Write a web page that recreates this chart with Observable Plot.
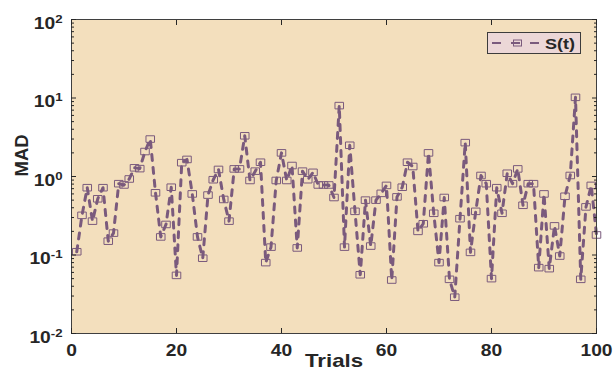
<!DOCTYPE html>
<html>
<head>
<meta charset="utf-8">
<script src="https://cdn.jsdelivr.net/npm/d3@7"></script>
<script src="https://cdn.jsdelivr.net/npm/@observablehq/plot@0.6"></script>
<style>
  body { margin: 0; background: #ffffff; }
  #wrap { position: relative; width: 614px; height: 371px; font-family: "Liberation Sans", Arial, sans-serif; }
  #legend {
    position: absolute; left: 487px; top: 32px; width: 94px; height: 22px;
    box-sizing: border-box; background: #ecd7d7; border: 1px solid #3c3c3c;
    display: flex; align-items: center;
  }
  #legend span { display: inline-block; font-weight: bold; font-size: 15px; color: #262626; margin-left: 2px; transform: scaleX(1.2); transform-origin: left center; }
</style>
</head>
<body>
<div id="wrap"></div>
<script>
// ---- data ----
const madValues = [
  0.11, 0.32, 0.72, 0.27, 0.52, 0.72, 0.15, 0.19, 0.81, 0.78,
  0.93, 1.29, 1.26, 2.08, 3.0, 0.62, 0.17, 0.245, 0.73, 0.055,
  1.5, 1.65, 0.6, 0.17, 0.091, 0.58, 0.91, 1.23, 0.51, 0.27,
  1.25, 1.25, 3.3, 0.89, 1.17, 1.52, 0.08, 0.126, 0.89, 2.0,
  0.89, 1.38, 0.123, 1.17, 0.91, 1.13, 0.78, 0.78, 0.78, 0.54,
  8.0, 0.126, 2.5, 0.36, 0.056, 0.5, 0.13, 0.5, 0.61, 0.77,
  0.048, 0.55, 0.73, 1.52, 1.34, 0.2, 0.25, 2.0, 0.34, 0.08,
  0.54, 0.049, 0.029, 0.29, 2.7, 0.108, 0.36, 1.03, 0.81, 0.05,
  0.72, 0.34, 1.1, 0.81, 1.25, 0.43, 0.81, 0.81, 0.069, 0.6,
  0.067, 0.235, 0.097, 0.56, 1.03, 10.2, 0.049, 0.41, 0.77, 0.18
];
const seriesName = "S(t)";
const xLabel = "Trials";
const yLabel = "MAD";
const xTicks = [0, 20, 40, 60, 80, 100];
const yTicks = [0.01, 0.1, 1, 10, 100];

// minor log ticks (2..9 within each decade)
const yMinor = [];
for (let e = -2; e < 2; e++) for (let m = 2; m <= 9; m++) yMinor.push(m * Math.pow(10, e));

const data = madValues.map((v, i) => ({trial: i + 1, mad: v}));

const lineColor = "#7a5a7d";
const bg = "#f3dfbd";
const ink = "#262626";

// slightly wide rectangle marker (like the reference squares)
const rectSymbol = {
  draw(ctx, size) {
    const s = Math.sqrt(size);
    const w = s * 1.12, h = s * 0.86;
    ctx.rect(-w / 2, -h / 2, w, h);
  }
};

const chart = Plot.plot({
  width: 614,
  height: 371,
  marginLeft: 71,
  marginRight: 18,
  marginTop: 19,
  marginBottom: 38,
  style: {
    fontFamily: "'Liberation Sans', Arial, sans-serif",
    fontWeight: "bold",
    fontSize: "16px",
    color: ink,
    background: "transparent",
    overflow: "visible"
  },
  x: {domain: [0, 100]},
  y: {type: "log", domain: [0.01, 100]},
  marks: [
    Plot.frame({fill: bg}),
    Plot.line(data, {x: "trial", y: "mad", stroke: lineColor, strokeWidth: 3, strokeDasharray: "6,7"}),
    Plot.dot(data, {x: "trial", y: "mad", symbol: rectSymbol, r: 4.3, stroke: lineColor, strokeWidth: 1, fill: "none"}),
    Plot.frame({stroke: "#3f3f3f", strokeWidth: 1}),
    // x axis labels + inward ticks
    Plot.axisX({anchor: "bottom", ticks: xTicks, tickSize: 0, tickPadding: 11, tickFormat: d => String(d), label: null, fontSize: 16}),
    Plot.axisX({anchor: "bottom", ticks: xTicks, tickSize: -5, tickFormat: () => "", label: null}),
    Plot.axisX({anchor: "top", ticks: xTicks, tickSize: -5, tickFormat: () => "", label: null}),
    // y axis labels + inward ticks
    Plot.axisY({anchor: "left", ticks: yTicks, tickSize: 0, tickPadding: 9, dy: 4, tickFormat: d => "10^" + Math.round(Math.log10(d)), label: null, fontSize: 16}),
    Plot.axisY({anchor: "left", ticks: yTicks, tickSize: -5, tickFormat: () => "", label: null}),
    Plot.axisY({anchor: "right", ticks: yTicks, tickSize: -5, tickFormat: () => "", label: null}),
    Plot.axisY({anchor: "left", ticks: yMinor, tickSize: -3, tickFormat: () => "", label: null}),
    Plot.axisY({anchor: "right", ticks: yMinor, tickSize: -3, tickFormat: () => "", label: null}),
    // axis titles
    Plot.text([xLabel], {frameAnchor: "bottom", dy: 33, text: d => d, fontSize: 18.5, fontWeight: "bold", fill: ink}),
    Plot.text([yLabel], {frameAnchor: "left", dx: -49, text: d => d, rotate: -90, fontSize: 18.5, fontWeight: "bold", fill: ink})
  ]
});

// turn "10^e" tick labels into 10 with a superscript exponent
d3.select(chart).selectAll("text").each(function() {
  const t = this.textContent;
  const m = /^10\^(-?\d+)$/.exec(t);
  if (!m) return;
  const sel = d3.select(this);
  sel.text("10");
  sel.append("tspan").attr("dy", "-0.55em").attr("font-size", "11px").text(m[1]);
});

const wrap = document.getElementById("wrap");
wrap.appendChild(chart);

// the reference's lettering is horizontally widened; mimic with textLength
d3.select(chart).selectAll("text").each(function() {
  const txt = this.textContent;
  if (!txt || txt === yLabel) return;
  const L = this.getComputedTextLength();
  if (L > 0) {
    this.setAttribute("textLength", (L * 1.2).toFixed(1));
    this.setAttribute("lengthAdjust", "spacingAndGlyphs");
  }
});

// legend box
const legend = document.createElement("div");
legend.id = "legend";
legend.innerHTML =
  `<svg width="55" height="20" style="display:block">
     <line x1="4" y1="10" x2="52" y2="10" stroke="${lineColor}" stroke-width="2.2" stroke-dasharray="9,10"></line>
     <rect x="25.5" y="7" width="8" height="6" fill="none" stroke="${lineColor}" stroke-width="1"></rect>
   </svg><span></span>`;
legend.querySelector("span").textContent = seriesName;
wrap.appendChild(legend);
</script>
</body>
</html>
